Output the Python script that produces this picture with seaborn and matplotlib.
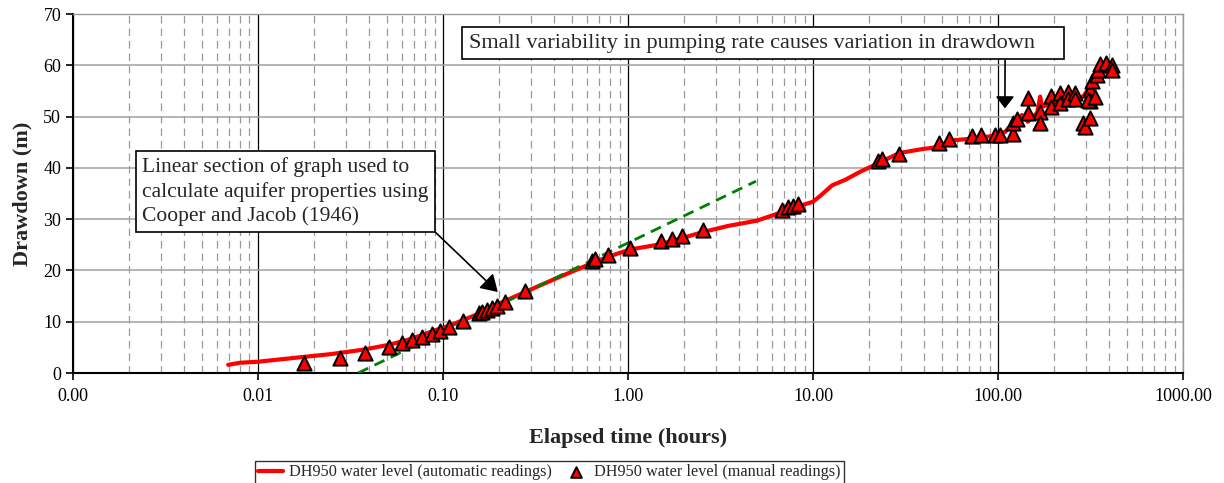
import numpy as np
import pandas as pd
import seaborn as sns
import matplotlib.pyplot as plt
from matplotlib.ticker import LogLocator, FuncFormatter, NullFormatter

# automatic readings (red line)
auto_t = [0.0069, 0.008, 0.01, 0.0183, 0.025, 0.0378, 0.051, 0.065, 0.077, 0.09,
          0.108, 0.13, 0.157, 0.2, 0.278, 0.412, 0.637, 0.8, 1.03, 1.5,
          2.0, 2.55, 3.5, 4.97, 6.0, 6.83, 8.0, 10.0, 11.0, 12.7,
          15.0, 17.9, 22.5, 29.3, 38.0, 48.2, 54.6, 72.0, 98.0, 102.0,
          109.0, 121.0, 128.0, 135.0, 145.0, 156.0, 163.0, 169.0, 173.0, 183.0,
          200.0, 232.0, 261.0, 290.0, 310.0, 330.0, 348.0, 380.0, 415.0]
auto_s = [1.6, 2.0, 2.2, 3.2, 3.7, 4.6, 5.5, 6.5, 7.4, 8.3,
          9.2, 10.4, 11.6, 13.5, 15.8, 18.5, 21.4, 22.8, 24.1, 25.1,
          26.4, 27.5, 28.7, 29.7, 30.7, 31.4, 32.3, 33.4, 34.6, 36.6,
          37.7, 39.2, 40.9, 42.9, 43.6, 44.1, 45.3, 45.7, 46.3, 46.7,
          47.0, 48.7, 49.6, 50.3, 49.0, 50.0, 50.8, 53.9, 51.9, 52.2,
          53.0, 53.5, 53.2, 54.0, 55.5, 57.8, 58.6, 58.8, 58.5]

# manual readings (triangles)
man_t = [0.0178, 0.0277, 0.0378, 0.0511, 0.0598, 0.0677, 0.0773, 0.0868, 0.0963, 0.1077,
         0.129, 0.157, 0.162, 0.172, 0.183, 0.195, 0.216, 0.278, 0.637, 0.663,
         0.776, 1.03, 1.50, 1.74, 1.97, 2.55, 6.83, 7.35, 7.83, 8.33,
         22.5, 23.7, 29.3, 48.2, 54.6, 72.1, 80.6, 96.3, 102.5, 121,
         121, 126, 146, 146, 169, 169, 193, 193, 216, 216,
         240, 240, 261, 261, 289, 295, 314, 314, 314, 305,
         334, 321, 341, 348, 356, 382, 415, 415]
man_s = [2.0, 2.9, 4.0, 5.0, 5.8, 6.4, 7.1, 7.7, 8.2, 9.0,
         10.2, 11.8, 11.9, 12.3, 12.6, 13.1, 13.9, 16.0, 21.9, 22.2,
         23.0, 24.4, 25.8, 26.1, 26.8, 27.9, 31.8, 32.3, 32.6, 32.9,
         41.4, 41.7, 42.8, 44.9, 45.6, 46.3, 46.4, 46.4, 46.4, 46.6,
         48.7, 49.6, 53.7, 50.7, 50.9, 48.7, 54.0, 51.9, 54.6, 52.7,
         54.8, 53.5, 54.6, 53.5, 48.7, 48.0, 49.8, 55.2, 53.1, 53.2,
         53.9, 57.0, 58.1, 59.1, 60.2, 60.4, 60.0, 59.1]

# Cooper-Jacob straight line
fit_t = [0.0348, 4.92]
fit_s = [0.0, 37.4]

x_ticks = [0.001, 0.01, 0.1, 1, 10, 100, 1000]
y_ticks = [0, 10, 20, 30, 40, 50, 60, 70]

auto = pd.DataFrame({'t': auto_t, 's': auto_s})
man = pd.DataFrame({'t': man_t, 's': man_s})

sns.set_style('white')
plt.rcParams['font.family'] = ['Liberation Serif', 'DejaVu Serif']

fig = plt.figure(figsize=(12.24, 4.83), dpi=100)
ax = fig.add_axes([0.0596, 0.2277, 0.9069, 0.7433])

sns.lineplot(data=auto, x='t', y='s', ax=ax, color='#ff0000', lw=3.0, sort=False,
             estimator=None, label='DH950 water level (automatic readings)', zorder=3)
ax.plot(fit_t, fit_s, color='#008000', lw=2.0, ls=(0, (4, 2.5)), zorder=4)
sns.scatterplot(data=man, x='t', y='s', ax=ax, marker='^', s=105, color='#ff0000',
                edgecolor='black', linewidth=1.4, zorder=5,
                label='DH950 water level (manual readings)')

ax.set_xscale('log')
ax.set_xlim(0.001, 1000)
ax.set_ylim(0, 70)
ax.set_xticks(x_ticks)
ax.xaxis.set_major_formatter(FuncFormatter(lambda v, p: f'{v:.2f}'))
ax.xaxis.set_minor_locator(LogLocator(base=10, subs=np.arange(2, 10), numticks=20))
ax.xaxis.set_minor_formatter(NullFormatter())
ax.set_yticks(y_ticks)

ax.grid(which='major', axis='x', color='black', lw=0.9)
ax.grid(which='minor', axis='x', color='#9a9a9a', lw=0.9, ls=(0, (6, 4)))
ax.grid(which='major', axis='y', color='#a0a0a0', lw=1.1)
ax.set_axisbelow(True)

ax.tick_params(axis='x', which='major', direction='out', length=5, width=1.2,
               labelsize=13, pad=6, bottom=True, colors='black')
ax.tick_params(axis='x', which='minor', length=0)
ax.tick_params(axis='y', direction='out', length=5, width=1.2, labelsize=13,
               left=True, colors='black')
for side in ['left', 'bottom']:
    ax.spines[side].set_color('black')
    ax.spines[side].set_linewidth(1.5)
for side in ['top', 'right']:
    ax.spines[side].set_color('#999999')
    ax.spines[side].set_linewidth(1.0)

ax.set_xlabel('Elapsed time (hours)', fontsize=16, fontweight='bold', labelpad=16)
ax.set_ylabel('Drawdown (m)', fontsize=16, fontweight='bold', labelpad=8)

ax.annotate('Linear section of graph used to\ncalculate aquifer properties using\nCooper and Jacob (1946)',
            xy=(0.198, 15.8), xycoords='data', xytext=(0.0626, 0.6003), textcoords='axes fraction',
            ha='left', va='top', fontsize=15.5, linespacing=1.3,
            bbox=dict(boxstyle='square,pad=0.3', fc='white', ec='black', lw=1.2),
            arrowprops=dict(arrowstyle='-|>,head_length=0.65,head_width=0.4', color='black',
                            lw=1.2, shrinkA=0, shrinkB=0, relpos=(1, 0)))
ax.annotate('Small variability in pumping rate causes variation in drawdown    ',
            xy=(109, 51.6), xycoords='data', xytext=(0.3565, 0.945), textcoords='axes fraction',
            ha='left', va='top', fontsize=16,
            bbox=dict(boxstyle='square,pad=0.3', fc='white', ec='black', lw=1.2),
            arrowprops=dict(arrowstyle='-|>,head_length=0.45,head_width=0.35', color='black',
                            lw=1.2, shrinkA=0, shrinkB=0, relpos=(0.9115, 0)))

handles, labels = ax.get_legend_handles_labels()
ax.get_legend().remove()
leg = fig.legend(handles, labels, loc='upper center', bbox_to_anchor=(0.449, 0.0455), ncol=2,
                 fontsize=11.7, frameon=True, fancybox=False, edgecolor='black',
                 borderaxespad=0, borderpad=0.2, handlelength=1.5, columnspacing=0.7,
                 handletextpad=0.4, markerscale=0.75)
leg.get_frame().set_linewidth(1.0)

fig.savefig('out.png', dpi=100)
